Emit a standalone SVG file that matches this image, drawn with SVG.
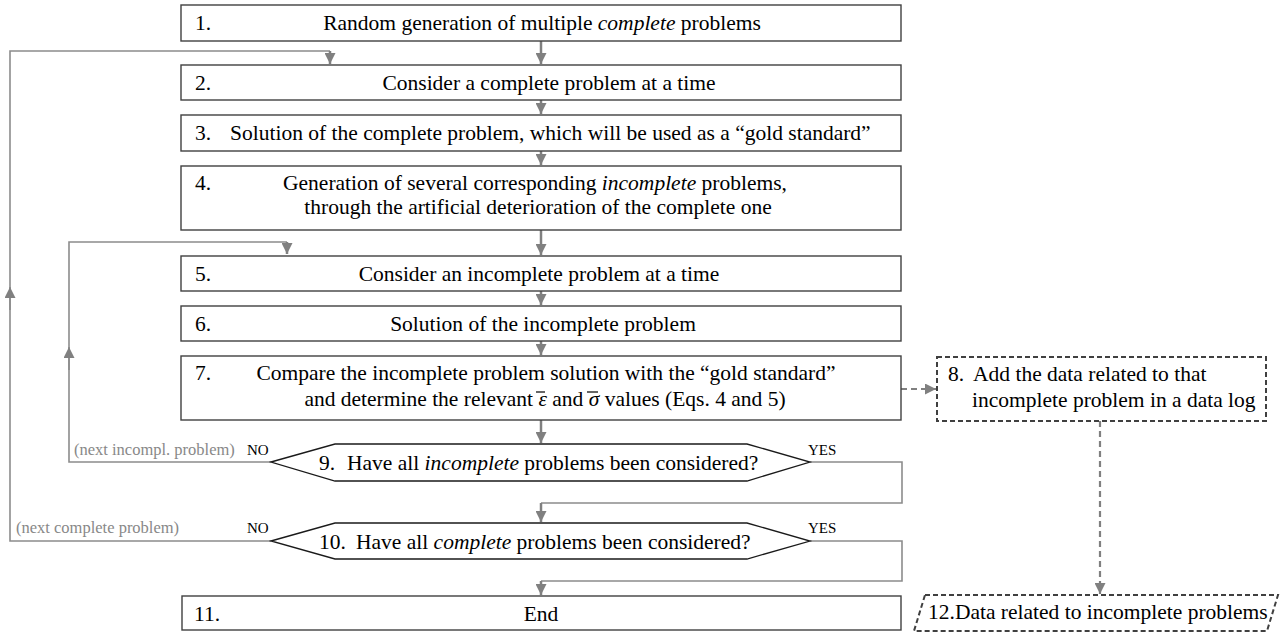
<svg xmlns="http://www.w3.org/2000/svg" width="1288" height="637" viewBox="0 0 1288 637">
<style>
.box{fill:#fff;stroke:#404040;stroke-width:1.4}
.dec{fill:#fff;stroke:#1a1a1a;stroke-width:1.3}
.dash{fill:#fff;stroke:#404040;stroke-width:2;stroke-dasharray:5 3}
.t{font-family:"Liberation Serif","Times New Roman",serif;font-size:21.5px;fill:#000}
.lab{font-family:"Liberation Serif","Times New Roman",serif;font-size:15px;fill:#000}
.g{font-family:"Liberation Serif","Times New Roman",serif;font-size:16.5px;fill:#888}
.main{fill:none;stroke:#808080;stroke-width:2.5}
.loop{fill:none;stroke:#8c8c8c;stroke-width:1.6}
.dl{fill:none;stroke:#808080;stroke-width:2.2;stroke-dasharray:6 4}
.bar{stroke:#000;stroke-width:1.2}
.mid{text-anchor:middle}
</style>
<defs>
<marker id="ah" markerUnits="userSpaceOnUse" markerWidth="11" markerHeight="11" refX="10" refY="5" orient="auto" viewBox="0 0 10 10">
<path d="M0,0 L10,5 L0,10 z" fill="#808080"/>
</marker>
</defs>
<g id="connectors">
<path class="main" d="M541,41 V64" marker-end="url(#ah)"/>
<path class="main" d="M541,100 V114" marker-end="url(#ah)"/>
<path class="main" d="M541,151 V165" marker-end="url(#ah)"/>
<path class="main" d="M541,230 V255" marker-end="url(#ah)"/>
<path class="main" d="M541,291 V305" marker-end="url(#ah)"/>
<path class="main" d="M541,341 V355" marker-end="url(#ah)"/>
<path class="main" d="M541,420 V443" marker-end="url(#ah)"/>
<path class="loop" d="M810,462 H902 V503 H541"/>
<path class="main" d="M541,503 V522" marker-end="url(#ah)"/>
<path class="loop" d="M810,541 H902 V581 H541"/>
<path class="main" d="M541,581 V595" marker-end="url(#ah)"/>
<path class="loop" d="M271,462 H69 V242 H287"/>
<path class="main" d="M287,242 V254" marker-end="url(#ah)"/>
<path class="loop" d="M69,370 V347" marker-end="url(#ah)"/>
<path class="loop" d="M271,541 H10 V51 H330"/>
<path class="main" d="M330,51 V64" marker-end="url(#ah)"/>
<path class="loop" d="M10,310 V287" marker-end="url(#ah)"/>
<path class="dl" d="M901,389 H936" marker-end="url(#ah)"/>
<path class="dl" d="M1100,421 V594" marker-end="url(#ah)"/>
</g>
<g id="n1"><rect class="box" x="181" y="5" width="720" height="36"/><text class="t" x="195" y="30">1.</text><text class="t mid" x="542" y="30">Random generation of multiple <tspan font-style="italic">complete</tspan> problems</text></g>
<g id="n2"><rect class="box" x="181" y="65" width="720" height="35"/><text class="t" x="195" y="90">2.</text><text class="t mid" x="549" y="90">Consider a complete problem at a time</text></g>
<g id="n3"><rect class="box" x="181" y="115" width="720" height="36"/><text class="t" x="195" y="140">3.</text><text class="t" x="230" y="140">Solution of the complete problem, which will be used as a “gold standard”</text></g>
<g id="n4"><rect class="box" x="181" y="166" width="720" height="64"/><text class="t" x="195" y="190">4.</text><text class="t mid" x="535" y="190">Generation of several corresponding <tspan font-style="italic">incomplete</tspan> problems,</text><text class="t mid" x="538" y="214">through the artificial deterioration of the complete one</text></g>
<g id="n5"><rect class="box" x="181" y="256" width="720" height="35"/><text class="t" x="195" y="281">5.</text><text class="t mid" x="539" y="281">Consider an incomplete problem at a time</text></g>
<g id="n6"><rect class="box" x="181" y="306" width="720" height="35"/><text class="t" x="195" y="331">6.</text><text class="t mid" x="543" y="331">Solution of the incomplete problem</text></g>
<g id="n7"><rect class="box" x="181" y="356" width="720" height="64"/><text class="t" x="195" y="380">7.</text><text class="t mid" x="546" y="380">Compare the incomplete problem solution with the “gold standard”</text><text class="t mid" x="545" y="406">and determine the relevant <tspan font-style="italic">ε</tspan> and <tspan font-style="italic">σ</tspan> values (Eqs. 4 and 5)</text><line class="bar" x1="536" y1="392" x2="545" y2="392"/><line class="bar" x1="587" y1="392" x2="598" y2="392"/></g>
<g id="n8"><rect class="dash" x="937" y="357" width="329" height="64"/><text class="t" x="948" y="381">8.</text><text class="t" x="973" y="381">Add the data related to that</text><text class="t" x="972" y="407">incomplete problem in a data log</text></g>
<g id="n9"><polygon class="dec" points="271,462 335,444 747,444 810,462 747,481 335,481"/><text class="t" x="319" y="470">9.</text><text class="t" x="347" y="470">Have all <tspan font-style="italic">incomplete</tspan> problems been considered?</text><text class="lab" x="247" y="455">NO</text><text class="g" x="74" y="455">(next incompl. problem)</text><text class="lab" x="808" y="455">YES</text></g>
<g id="n10"><polygon class="dec" points="271,541 335,523 747,523 810,541 747,559 335,559"/><text class="t" x="319" y="549">10.</text><text class="t" x="356" y="549">Have all <tspan font-style="italic">complete</tspan> problems been considered?</text><text class="lab" x="247" y="533">NO</text><text class="g" x="16" y="533">(next complete problem)</text><text class="lab" x="808" y="533">YES</text></g>
<g id="n11"><rect class="box" x="182" y="596" width="719" height="34"/><text class="t" x="194" y="621">11.</text><text class="t mid" x="541" y="621">End</text></g>
<g id="n12"><polygon class="dash" points="925,595 1278,595 1267,631 914,631"/><text class="t" x="928" y="619">12.Data related to incomplete problems</text></g>
</svg>
